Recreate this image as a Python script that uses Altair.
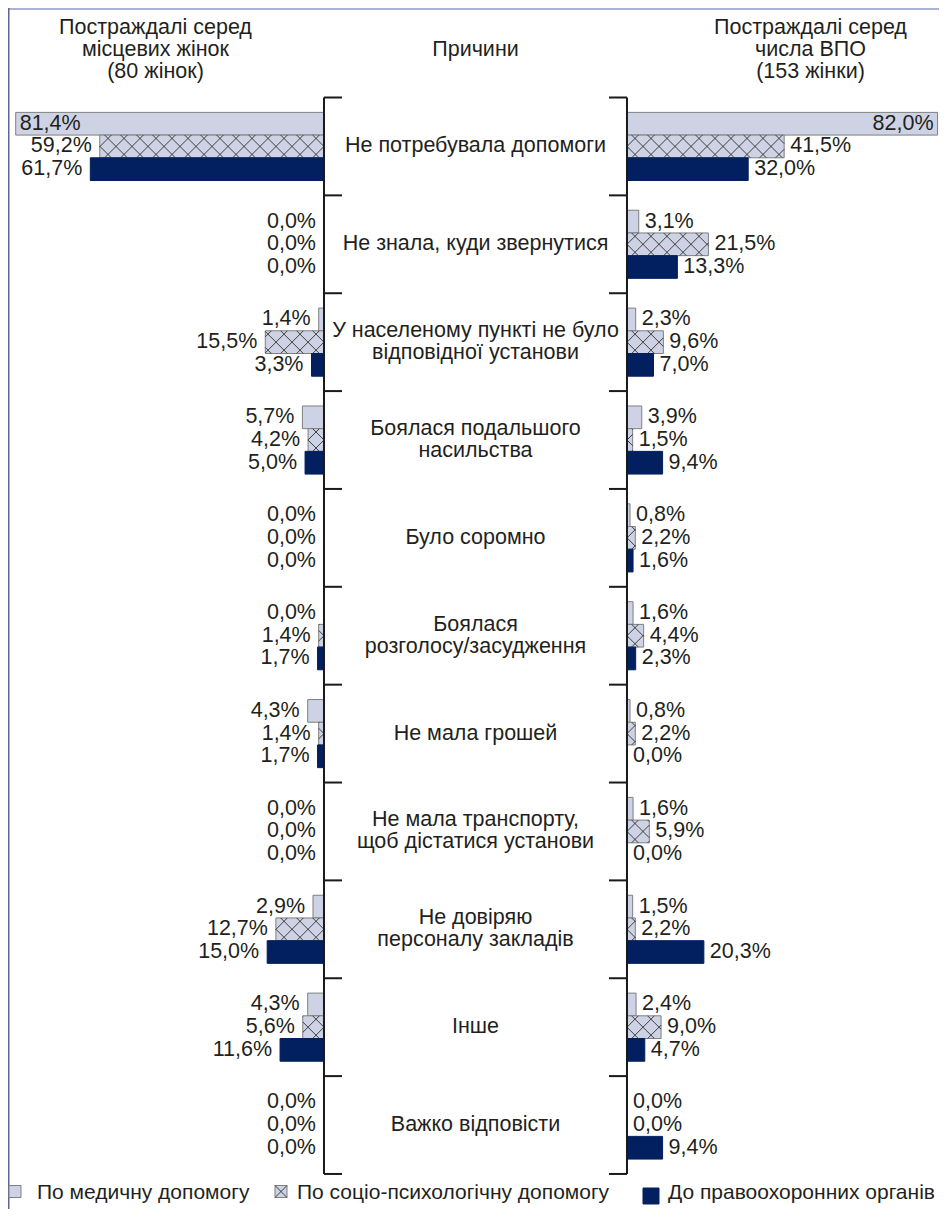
import math
import altair as alt
import pandas as pd

# ---------------- data ----------------
categories = [
    "Не потребувала допомоги",
    "Не знала, куди звернутися",
    "У населеному пункті не було\nвідповідної установи",
    "Боялася подальшого\nнасильства",
    "Було соромно",
    "Боялася\nрозголосу/засудження",
    "Не мала грошей",
    "Не мала транспорту,\nщоб дістатися установи",
    "Не довіряю\nперсоналу закладів",
    "Інше",
    "Важко відповісти",
]
series = ["По медичну допомогу", "По соціо-психологічну допомогу", "До правоохоронних органів"]

local_medical = [81.4, 0.0, 1.4, 5.7, 0.0, 0.0, 4.3, 0.0, 2.9, 4.3, 0.0]
local_psych = [59.2, 0.0, 15.5, 4.2, 0.0, 1.4, 1.4, 0.0, 12.7, 5.6, 0.0]
local_police = [61.7, 0.0, 3.3, 5.0, 0.0, 1.7, 1.7, 0.0, 15.0, 11.6, 0.0]

idp_medical = [82.0, 3.1, 2.3, 3.9, 0.8, 1.6, 0.8, 1.6, 1.5, 2.4, 0.0]
idp_psych = [41.5, 21.5, 9.6, 1.5, 2.2, 4.4, 2.2, 5.9, 2.2, 9.0, 0.0]
idp_police = [32.0, 13.3, 7.0, 9.4, 1.6, 2.3, 0.0, 0.0, 20.3, 4.7, 9.4]

header_left = "Постраждалі серед\nмісцевих жінок\n(80 жінок)"
header_mid = "Причини"
header_right = "Постраждалі серед\nчисла ВПО\n(153 жінки)"

# ---------------- layout / style ----------------
W, H = 931, 1201
X_DOM = [-123.43, 122.38]
Y_DOM = [-0.9146, 11.358]
G = 40.0            # half gap between the two panels (in % units)
BAR = 0.232         # bar thickness in category units
K = W / (X_DOM[1] - X_DOM[0])
B = H / (Y_DOM[1] - Y_DOM[0])
FONT = "Liberation Sans"
FS = 21.5
LH = 22
TXT = "#231f20"
LIGHT = "#cdd3e4"
NAVY = "#02205f"
GRAY = "#7f7f7f"
HATCH = "#2e2e2e"
P = 16.0            # hatch period in px

xs = alt.Scale(domain=X_DOM, nice=False, zero=False)
ys = alt.Scale(domain=Y_DOM, nice=False, zero=False, reverse=True)


def fmt(v):
    return f"{v:.1f}".replace(".", ",") + "%"


rows = []
sides = {
    "L": [local_medical, local_psych, local_police],
    "R": [idp_medical, idp_psych, idp_police],
}
for side, arrs in sides.items():
    sign = -1 if side == "L" else 1
    for s, arr in enumerate(arrs):
        for i, v in enumerate(arr):
            yc = i + 0.5 + (s - 1) * BAR
            rows.append(dict(
                side=side, s=s, series=series[s], cat=i, v=v,
                x0=sign * G, x1=sign * (G + v), yc=yc,
                y0=yc - BAR / 2, y1=yc + BAR / 2, label=fmt(v),
                inside=v > 70,
            ))
df = pd.DataFrame(rows)
bars_df = df[df.v > 0]

# hatch segments (crosshatch clipped to each hatched bar)
segs = []
for _, r in bars_df[bars_df.s == 1].iterrows():
    xa = (min(r.x0, r.x1) - X_DOM[0]) * K
    xb = (max(r.x0, r.x1) - X_DOM[0]) * K
    ya = (r.y0 - Y_DOM[0]) * B
    yb = (r.y1 - Y_DOM[0]) * B
    ax = (r.x0 - X_DOM[0]) * K
    ym = (ya + yb) / 2
    base = ax + ym
    k0 = math.floor((xa + ya - base) / P) - 1
    k1 = math.ceil((xb + yb - base) / P) + 1
    for k in range(k0, k1 + 1):
        c = base + k * P
        p0 = max(xa, c - yb)
        p1 = min(xb, c - ya)
        if p1 - p0 > 0.3:
            segs.append((p0, c - p0, p1, c - p1))
    base = ax - ym
    k0 = math.floor((xa - yb - base) / P) - 1
    k1 = math.ceil((xb - ya - base) / P) + 1
    for k in range(k0, k1 + 1):
        d = base + k * P
        p0 = max(xa, d + ya)
        p1 = min(xb, d + yb)
        if p1 - p0 > 0.3:
            segs.append((p0, p0 - d, p1, p1 - d))
hatch_df = pd.DataFrame(
    [dict(hx0=a / K + X_DOM[0], hy0=b / B + Y_DOM[0],
          hx1=c / K + X_DOM[0], hy1=d / B + Y_DOM[0]) for a, b, c, d in segs]
)

# ---------------- layers ----------------
bars = alt.Chart(bars_df).mark_rect(strokeWidth=1).encode(
    x=alt.X("x0:Q", scale=xs, axis=None),
    x2="x1:Q",
    y=alt.Y("y0:Q", scale=ys, axis=None),
    y2="y1:Q",
    fill=alt.Fill("series:N", scale=alt.Scale(domain=series, range=[LIGHT, LIGHT, NAVY]), legend=None),
    stroke=alt.Stroke("series:N", scale=alt.Scale(domain=series, range=[GRAY, GRAY, NAVY]), legend=None),
)

hatch = alt.Chart(hatch_df).mark_rule(color=HATCH, strokeWidth=0.9).encode(
    x=alt.X("hx0:Q", scale=xs), y=alt.Y("hy0:Q", scale=ys),
    x2="hx1:Q", y2="hy1:Q",
)

txt = dict(font=FONT, fontSize=FS, color=TXT, baseline="middle")

lab_L_out = alt.Chart(df[(df.side == "L") & (~df.inside)]).mark_text(align="right", dx=-8, **txt).encode(
    x=alt.X("x1:Q", scale=xs), y=alt.Y("yc:Q", scale=ys), text="label:N")
lab_L_in = alt.Chart(df[(df.side == "L") & (df.inside)]).mark_text(align="left", dx=4, **txt).encode(
    x=alt.X("x1:Q", scale=xs), y=alt.Y("yc:Q", scale=ys), text="label:N")
lab_R_out = alt.Chart(df[(df.side == "R") & (~df.inside)]).mark_text(align="left", dx=6, **txt).encode(
    x=alt.X("x1:Q", scale=xs), y=alt.Y("yc:Q", scale=ys), text="label:N")
lab_R_in = alt.Chart(df[(df.side == "R") & (df.inside)]).mark_text(align="right", dx=-4, **txt).encode(
    x=alt.X("x1:Q", scale=xs), y=alt.Y("yc:Q", scale=ys), text="label:N")

cat_df = pd.DataFrame({"cx": [0.0] * len(categories),
                       "cy": [i + 0.5 for i in range(len(categories))],
                       "name": categories,
                       "nl": [c.count("\n") + 1 for c in categories]})
cat_one = alt.Chart(cat_df[cat_df.nl == 1]).mark_text(align="center", **txt).encode(
    x=alt.X("cx:Q", scale=xs), y=alt.Y("cy:Q", scale=ys), text="name:N")
cat_two = alt.Chart(cat_df[cat_df.nl == 2]).mark_text(
    align="center", lineBreak="\n", lineHeight=LH, dy=-LH / 2, **txt).encode(
    x=alt.X("cx:Q", scale=xs), y=alt.Y("cy:Q", scale=ys), text="name:N")

# centre "axes" (vertical lines with ticks at category boundaries)
TICK = 18 / K
n = len(categories)
vline_df = pd.DataFrame({"ax": [-G, G], "ay0": [0, 0], "ay1": [n, n]})
vlines = alt.Chart(vline_df).mark_rule(color="#1a1a1a", strokeWidth=2).encode(
    x=alt.X("ax:Q", scale=xs), y=alt.Y("ay0:Q", scale=ys), y2="ay1:Q")
tick_rows = []
for j in range(n + 1):
    tick_rows.append(dict(tx0=-G, tx1=-G + TICK, ty=j))
    tick_rows.append(dict(tx0=G, tx1=G - TICK, ty=j))
ticks = alt.Chart(pd.DataFrame(tick_rows)).mark_rule(color="#1a1a1a", strokeWidth=2).encode(
    x=alt.X("tx0:Q", scale=xs), x2="tx1:Q", y=alt.Y("ty:Q", scale=ys))

# headers
one = pd.DataFrame({"a": [0]})
hdr = []
for t, hx, hy in [(header_left, 147.5, 20), (header_mid, 467.5, 42), (header_right, 802.5, 20)]:
    hdr.append(alt.Chart(one).mark_text(align="center", lineBreak="\n", lineHeight=LH, text=t, **txt).encode(
        x=alt.value(hx), y=alt.value(hy)))

# legend
LFS = 21
leg = []
leg.append(alt.Chart(one).mark_point(shape="square", filled=True, size=144, fill=LIGHT, stroke=GRAY,
                                     strokeWidth=1, opacity=1).encode(x=alt.value(7), y=alt.value(1183.5)))
leg.append(alt.Chart(one).mark_point(shape="square", filled=True, size=144, fill=LIGHT, stroke=GRAY,
                                     strokeWidth=1, opacity=1).encode(x=alt.value(273), y=alt.value(1183.5)))
leg.append(alt.Chart(one).mark_point(shape="M-1,-1L1,1M-1,1L1,-1", filled=False, size=144, stroke=HATCH,
                                     strokeWidth=0.9, opacity=1).encode(x=alt.value(273), y=alt.value(1183.5)))
leg.append(alt.Chart(one).mark_point(shape="square", filled=True, size=256, fill=NAVY, stroke=NAVY,
                                     strokeWidth=1, opacity=1).encode(x=alt.value(643), y=alt.value(1188)))
for t, lx in zip(series, [29, 289, 660]):
    leg.append(alt.Chart(one).mark_text(align="left", text=t, font=FONT, fontSize=LFS, color=TXT,
                                        baseline="middle").encode(x=alt.value(lx), y=alt.value(1185)))

# frame (top & left edge)
frame_top = alt.Chart(one).mark_rule(color="#aab3d3", strokeWidth=2).encode(
    x=alt.value(0), x2=alt.value(W), y=alt.value(1))
frame_left = alt.Chart(one).mark_rule(color="#5b6894", strokeWidth=1.5).encode(
    x=alt.value(0.75), y=alt.value(0), y2=alt.value(H))

chart = alt.layer(
    frame_top, frame_left,
    bars, hatch, vlines, ticks,
    lab_L_out, lab_L_in, lab_R_out, lab_R_in,
    cat_one, cat_two, *hdr, *leg,
).properties(
    width=W, height=H, padding=0, autosize=alt.AutoSizeParams(type="none"),
).configure_view(stroke=None)

chart.save("out.html", embed_options={"renderer": "svg", "actions": False})
